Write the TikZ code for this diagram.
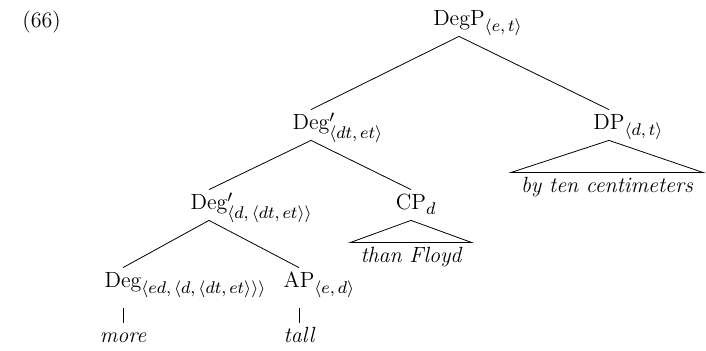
\RequirePackage{fix-cm}
\documentclass[tikz,border=0pt]{standalone}
\usepackage{amsmath}
\usepackage{fontspec}
\DeclareMathSizes{11}{11}{8.5}{6.5}
\begin{document}
\begin{tikzpicture}[x=0.5pt,y=-0.5pt,font=\fontsize{11}{13}\selectfont,
    cat/.style={anchor=base,inner sep=2pt,text height=8pt,text depth=3pt},
    leaf/.style={anchor=base,inner ysep=2pt,inner xsep=5pt,text height=8pt,text depth=3pt,font=\fontsize{11}{13}\selectfont\itshape}]
    \useasboundingbox (0,0) rectangle (706,351);
    \node[anchor=base west,inner sep=0pt] (ex) at (22,28) {(66)};
    \node[cat] (degp) at (459,26) {DegP\rlap{$_{\langle e,\,t\rangle}$}};
    \node[cat] (degbar) at (311,130) {Deg\rlap{$'_{\langle dt,\,et\rangle}$}};
    \node[cat] (dp) at (609,130) {DP\rlap{$_{\langle d,\,t\rangle}$}};
    \node[cat] (degbarlow) at (209,210) {Deg\rlap{$'_{\langle d,\,\langle dt,\,et\rangle\rangle}$}};
    \node[cat] (cp) at (411,210) {CP\rlap{$_{d}$}};
    \node[cat] (deg) at (123,288) {Deg\rlap{$_{\langle ed,\,\langle d,\,\langle dt,\,et\rangle\rangle\rangle}$}};
    \node[cat] (ap) at (299,288) {AP\rlap{$_{\langle e,\,d\rangle}$}};
    \node[leaf] (bycm) at (607,193) {by ten centimeters};
    \node[leaf] (floyd) at (411,263) {than Floyd};
    \node[leaf] (more) at (123,343) {more};
    \node[leaf] (tall) at (299,343) {tall};
    % branches
    \draw (degp.south) -- (degbar.north);
    \draw (degp.south) -- (dp.north);
    \draw (degbar.south) -- (degbarlow.north);
    \draw (degbar.south) -- (cp.north);
    \draw (degbarlow.south) -- (deg.north);
    \draw (degbarlow.south) -- (ap.north);
    \draw[shorten <=5pt] (deg.south) -- (more.north);
    \draw[shorten <=5pt] (ap.south) -- (tall.north);
    % roofs
    \draw (dp.south) -- (bycm.north west) -- (bycm.north east) -- cycle;
    \draw (cp.south) -- (floyd.north west) -- (floyd.north east) -- cycle;
\end{tikzpicture}
\end{document}
